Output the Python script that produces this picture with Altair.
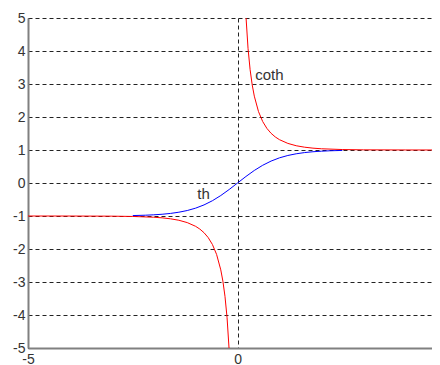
import altair as alt
import pandas as pd

# tanh curve (blue)
th_x = [-2.5, -2.2, -2.0, -1.8, -1.6, -1.4, -1.2, -1.0, -0.8, -0.6, -0.4, -0.2, 0.0,
        0.2, 0.4, 0.6, 0.8, 1.0, 1.2, 1.4, 1.6, 1.8, 2.0, 2.2, 2.5]
th_y = [-0.987, -0.976, -0.964, -0.947, -0.922, -0.885, -0.834, -0.762, -0.664, -0.537, -0.380, -0.197, 0.0,
        0.197, 0.380, 0.537, 0.664, 0.762, 0.834, 0.885, 0.922, 0.947, 0.964, 0.976, 0.987]

# coth curve (red), left branch
coth_left_x = [-5.0, -4.0, -3.0, -2.5, -2.0, -1.8, -1.6, -1.4, -1.2, -1.0, -0.9, -0.8,
               -0.7, -0.6, -0.5, -0.4, -0.35, -0.3, -0.25, -0.2]
coth_left_y = [-1.000, -1.001, -1.005, -1.014, -1.037, -1.056, -1.085, -1.129, -1.200, -1.313, -1.396, -1.506,
               -1.655, -1.862, -2.164, -2.632, -2.973, -3.433, -4.083, -5.066]
# coth curve (red), right branch
coth_right_x = [0.2, 0.25, 0.3, 0.35, 0.4, 0.5, 0.6, 0.7, 0.8, 0.9, 1.0, 1.2,
                1.4, 1.6, 1.8, 2.0, 2.5, 3.0, 4.0, 5.0]
coth_right_y = [5.066, 4.083, 3.433, 2.973, 2.632, 2.164, 1.862, 1.655, 1.506, 1.396, 1.313, 1.200,
                1.129, 1.085, 1.056, 1.037, 1.014, 1.005, 1.001, 1.000]

labels_text = ["coth", "th"]
labels_x = [0.42, -0.96]
labels_y = [3.13, -0.48]

x_ticks = [-5, 0]
y_ticks = [-5, -4, -3, -2, -1, 0, 1, 2, 3, 4, 5]

th_df = pd.DataFrame({"x": th_x, "y": th_y, "branch": "th"})
coth_df = pd.concat([
    pd.DataFrame({"x": coth_left_x, "y": coth_left_y, "branch": "left"}),
    pd.DataFrame({"x": coth_right_x, "y": coth_right_y, "branch": "right"}),
], ignore_index=True)
lab_df = pd.DataFrame({"t": labels_text, "x": labels_x, "y": labels_y})

FONT = "Liberation Sans"

xscale = alt.Scale(domain=[-5, 4.64], nice=False, zero=False)
yscale = alt.Scale(domain=[-5, 5], nice=False, zero=False)

common = dict(title=None, grid=True, gridDash=[4, 3], gridColor="#222222",
              gridWidth=1, domainColor="#808080", domainWidth=2, ticks=False,
              labelFontSize=14, labelColor="#333333", labelFont=FONT,
              labelFlush=False, labelOverlap=False,
              labelExpr="'' + datum.value")
xaxis = alt.Axis(values=x_ticks, labelPadding=4, **common)
yaxis = alt.Axis(values=y_ticks, labelPadding=3, **common)

X = alt.X("x:Q", scale=xscale, axis=xaxis)
Y = alt.Y("y:Q", scale=yscale, axis=yaxis)

coth = alt.Chart(coth_df).mark_line(color="#ff0000", strokeWidth=1, clip=True).encode(
    x=X, y=Y, detail="branch:N",
)
th = alt.Chart(th_df).mark_line(color="#0000ff", strokeWidth=1, clip=True).encode(
    x=X, y=Y,
)
text = alt.Chart(lab_df).mark_text(align="left", baseline="alphabetic", fontSize=15,
                                   font=FONT, color="#333333").encode(
    x=X, y=Y, text="t:N",
)

chart = alt.layer(coth, th, text).properties(
    width=404, height=330,
    autosize=alt.AutoSizeParams(type="none"),
    padding={"left": 20, "top": 10, "right": 0, "bottom": 17},
    background="white",
).configure_view(strokeWidth=0)

chart.save("out.html", embed_options={"renderer": "svg", "actions": False})
